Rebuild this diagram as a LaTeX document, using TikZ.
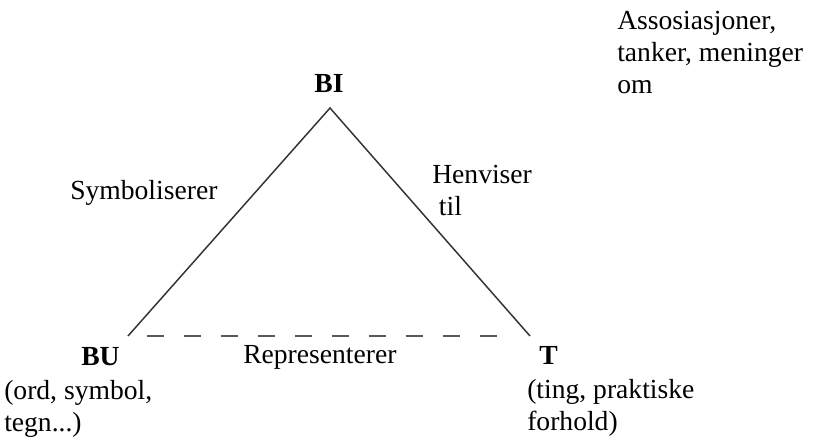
\documentclass[tikz,border=0pt]{standalone}
\usepackage{fontspec}
\setmainfont{Liberation Serif}
\usepackage{tikz}
\usetikzlibrary{positioning, calc}
\tikzstyle{tekst} = [inner sep=0pt, anchor=base west, align=left, font=\fontsize{20.7}{24}\selectfont]
\tikzstyle{hjorne} = [tekst, font=\fontsize{20.7}{24}\selectfont\bfseries]
\tikzstyle{side} = [line width=1.1pt, draw=black!80]

\begin{document}
\begin{tikzpicture}[x=0.75pt, y=-0.75pt]
\useasboundingbox (0,0) rectangle (816,446);
\coordinate (topp) at (330,108);
\coordinate (venstre) at (128,336);
\coordinate (hoyre) at (530,336);
\node (bi) [hjorne, anchor=base] at (329,92) {BI};
\node (bu) [hjorne] at (81,365) {BU};
\node (t) [hjorne] at (539,364) {T};
% base = siste linje
\node (bu-tekst) [tekst] at (4,431) {(ord, symbol,\\tegn...)};
\node (t-tekst) [tekst] at (527,430) {(ting, praktiske\\forhold)};
\node (assosiasjoner) [tekst] at (617,93) {Assosiasjoner,\\tanker, meninger\\om};
\node (symboliserer) [tekst] at (70,199) {Symboliserer};
\node (henviser) [tekst] at (432,215) {Henviser\\\hspace{5pt}til};
\node (representerer) [tekst] at (243,363) {Representerer};
\draw [side] (venstre) -- (topp) -- (hoyre);
\draw [side, draw=black!65, dash pattern=on 12.75pt off 15pt, shorten <=14pt, shorten >=24pt] (venstre) -- (hoyre);
\end{tikzpicture}
\end{document}
